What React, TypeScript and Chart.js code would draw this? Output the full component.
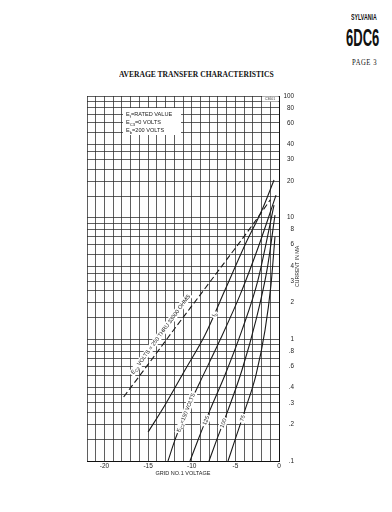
import React, { useEffect, useRef } from 'react';
import { Chart, registerables } from 'chart.js';

Chart.register(...registerables);

// ---- data (grid No.1 voltage in V, current in mA) ----
const dashedX = [-17.8, -14.8, -11.9, -9.05, -6.2, -3.3, -1.0];
const dashedY = [0.336, 0.65, 1.24, 2.31, 4.32, 8.2, 14.0];

const ibX = [-15.0, -13.06, -10.77, -8.48, -6.19, -3.9, -1.95, -0.57];
const ibY = [0.173, 0.289, 0.56, 1.085, 2.54, 5.96, 11.56, 20.4];

const ec150X = [-12.72, -11.92, -10.66, -9.05, -6.76, -4.47, -2.41, -0.34];
const ec150Y = [0.1, 0.149, 0.253, 0.446, 0.987, 2.31, 5.63, 15.3];

const ec125X = [-10.2, -9.28, -7.91, -6.19, -4.24, -2.41, -0.57];
const ec125Y = [0.1, 0.149, 0.262, 0.509, 1.19, 3.07, 12.7];

const ec100X = [-8.02, -7.14, -5.84, -4.24, -2.64, -1.375, -0.46];
const ec100Y = [0.1, 0.149, 0.262, 0.56, 1.44, 3.72, 10.5];

const ec75X = [-5.84, -5.04, -3.9, -2.64, -1.6, -0.92, -0.46];
const ec75Y = [0.1, 0.149, 0.262, 0.509, 1.19, 2.8, 6.97];

const xGridValues = [-22, -21, -20, -19, -18, -17, -16, -15, -14, -13, -12, -11, -10, -9, -8, -7, -6, -5, -4, -3, -2, -1, 0];
const xLabelValues = [-20, -15, -10, -5, 0];

const yGridMantissas = [1, 1.5, 2, 2.5, 3, 3.5, 4, 5, 6, 7, 8, 9];
const yDecades = [0.1, 1, 10];
const yLabelValues = [0.1, 0.2, 0.3, 0.4, 0.6, 0.8, 1, 2, 3, 4, 6, 8, 10, 20, 30, 40, 60, 80, 100];
const yLabelTexts = ['.1', '.2', '.3', '.4', '.6', '.8', '1', '2', '3', '4', '6', '8', '10', '20', '30', '40', '60', '80', '100'];

const legendLines: [string, string, string][] = [
  ['E', 'f', '=RATED VALUE'],
  ['E', 'C3', '=0 VOLTS'],
  ['E', 'b', '=200 VOLTS'],
];

// label set beside the dashed curve
const dashedLabel = { pre: 'E', sub: 'C2', post: ' VOLTS = 250 THRU 33000 OHMS', x: -13.6, y: 1.1, angle: -54 };
// inline labels that interrupt a solid curve: dataset index + current (mA) where they sit
const inlineLabels = [
  { ds: 1, pre: 'I', sub: 'b', post: '', at: 1.6 },
  { ds: 2, pre: 'E', sub: 'C2', post: '=150 VOLTS', at: 0.25 },
  { ds: 3, pre: '125', sub: '', post: '', at: 0.215 },
  { ds: 4, pre: '100', sub: '', post: '', at: 0.205 },
  { ds: 5, pre: '75', sub: '', post: '', at: 0.225 },
];

const INK = '#1a1a1a';
const SANS = '"Liberation Sans", Arial, sans-serif';
const LSIZE = 5.6;

const zip = (xs: number[], ys: number[]) => xs.map((x, i) => ({ x, y: ys[i] }));

function drawSubText(ctx: CanvasRenderingContext2D, pre: string, sub: string, post: string, size: number, x0: number, y0: number, measureOnly = false) {
  ctx.font = `${size}px ${SANS}`;
  const w1 = ctx.measureText(pre).width;
  ctx.font = `${size * 0.75}px ${SANS}`;
  const w2 = ctx.measureText(sub).width;
  ctx.font = `${size}px ${SANS}`;
  const w3 = ctx.measureText(post).width;
  const total = w1 + w2 + w3;
  if (measureOnly) return total;
  ctx.textBaseline = 'alphabetic';
  ctx.textAlign = 'left';
  ctx.font = `${size}px ${SANS}`;
  ctx.fillText(pre, x0, y0);
  ctx.font = `${size * 0.75}px ${SANS}`;
  ctx.fillText(sub, x0 + w1, y0 + size * 0.3);
  ctx.font = `${size}px ${SANS}`;
  ctx.fillText(post, x0 + w1 + w2, y0);
  return total;
}

function drawRotatedLabel(ctx: CanvasRenderingContext2D, pre: string, sub: string, post: string, px: number, py: number, angleRad: number) {
  const w = drawSubText(ctx, pre, sub, post, LSIZE, 0, 0, true) as number;
  ctx.save();
  ctx.translate(px, py);
  ctx.rotate(angleRad);
  ctx.fillStyle = '#fff';
  ctx.fillRect(-w / 2 - 1.5, -LSIZE * 0.6, w + 3, LSIZE * 1.3);
  ctx.fillStyle = INK;
  drawSubText(ctx, pre, sub, post, LSIZE, -w / 2, LSIZE * 0.35);
  ctx.restore();
}

const annotPlugin = {
  id: 'annot',
  beforeDatasetsDraw(chart: any) {
    const { ctx, chartArea, scales } = chart;
    const xs = scales.x;
    const ys = scales.y;
    ctx.save();
    // legend box
    const bx = chartArea.left + 36;
    const by = chartArea.top + 12;
    ctx.fillStyle = '#fff';
    ctx.fillRect(bx, by, 58, 27);
    ctx.fillStyle = INK;
    legendLines.forEach((l, i) => {
      drawSubText(ctx, l[0], l[1], l[2], 5.6, bx + 3, by + 8 + i * 8.2);
    });
    // small code box in the corner
    ctx.fillStyle = '#fff';
    ctx.fillRect(chartArea.right - 17, chartArea.top + 0.5, 16.5, 5);
    ctx.fillStyle = '#444';
    ctx.font = `3.6px ${SANS}`;
    ctx.textAlign = 'center';
    ctx.textBaseline = 'middle';
    ctx.fillText('C3601', chartArea.right - 9, chartArea.top + 3);

    // dashed-curve label
    drawRotatedLabel(
      ctx,
      dashedLabel.pre,
      dashedLabel.sub,
      dashedLabel.post,
      xs.getPixelForValue(dashedLabel.x),
      ys.getPixelForValue(dashedLabel.y),
      (dashedLabel.angle * Math.PI) / 180,
    );

    // right axis title, reading upward
    ctx.save();
    ctx.translate(chartArea.right + 19, (chartArea.top + chartArea.bottom) / 2 - 12);
    ctx.rotate(-Math.PI / 2);
    ctx.fillStyle = '#222';
    ctx.font = `5.2px ${SANS}`;
    ctx.textAlign = 'center';
    ctx.textBaseline = 'middle';
    ctx.fillText('CURRENT IN MA', 0, 0);
    ctx.restore();
    ctx.restore();
  },
  afterDatasetsDraw(chart: any) {
    const { ctx, scales } = chart;
    const ys = scales.y;
    ctx.save();
    inlineLabels.forEach((lb) => {
      const pts = chart.getDatasetMeta(lb.ds).data as any[];
      const ty = ys.getPixelForValue(lb.at);
      for (let i = 0; i < pts.length - 1; i++) {
        const a = pts[i];
        const b = pts[i + 1];
        if ((a.y - ty) * (b.y - ty) <= 0 && a.y !== b.y) {
          const t = (ty - a.y) / (b.y - a.y);
          const px = a.x + t * (b.x - a.x);
          const ang = Math.atan2(b.y - a.y, b.x - a.x);
          drawRotatedLabel(ctx, lb.pre, lb.sub, lb.post, px, ty, ang);
          break;
        }
      }
    });
    ctx.restore();
  },
};

const yGridValues = (() => {
  const v: number[] = [];
  yDecades.forEach((d) => yGridMantissas.forEach((m) => v.push(Number((m * d).toFixed(4)))));
  v.push(100);
  return v;
})();

export default function App() {
  const canvasRef = useRef<HTMLCanvasElement>(null);
  const headRefs = useRef<(HTMLDivElement | null)[]>([]);

  const heads = [
    { text: 'SYLVANIA', left: 351, top: 12.9, size: 9.2, width: 25.7, family: '"Liberation Sans Narrow", "Liberation Sans", Arial, sans-serif', weight: 700, spacing: 0 },
    { text: '6DC6', left: 346, top: 26.4, size: 24, width: 33.3, family: '"Liberation Sans Narrow", "Liberation Sans", Arial, sans-serif', weight: 700, spacing: 0 },
    { text: 'PAGE 3', left: 351.7, top: 58.7, size: 7.5, width: 25, family: '"Liberation Serif", "Times New Roman", serif', weight: 400, spacing: 0.6 },
    { text: 'AVERAGE TRANSFER CHARACTERISTICS', left: 119.3, top: 71, size: 7.5, width: 154.7, family: '"Liberation Serif", "Times New Roman", serif', weight: 700, spacing: 0 },
  ];

  useEffect(() => {
    headRefs.current.forEach((el, i) => {
      if (!el) return;
      const w = el.getBoundingClientRect().width;
      if (w > 0) el.style.transform = `scaleX(${heads[i].width / w})`;
    });

    const canvas = canvasRef.current;
    if (!canvas) return;
    const lineDs = (label: string, xs: number[], ys: number[], dashed = false) => ({
      label,
      data: zip(xs, ys),
      borderColor: INK,
      borderWidth: 1.1,
      borderDash: dashed ? [6, 3] : [],
      pointRadius: 0,
      fill: false,
      cubicInterpolationMode: 'monotone' as const,
    });

    const chart = new Chart(canvas, {
      type: 'line',
      data: {
        datasets: [
          lineDs('Ec2 = 250 V thru 33000 ohms', dashedX, dashedY, true),
          lineDs('Ib', ibX, ibY),
          lineDs('Ec2 = 150 V', ec150X, ec150Y),
          lineDs('Ec2 = 125 V', ec125X, ec125Y),
          lineDs('Ec2 = 100 V', ec100X, ec100Y),
          lineDs('Ec2 = 75 V', ec75X, ec75Y),
        ],
      },
      options: {
        animation: false,
        responsive: false,
        devicePixelRatio: 1,
        layout: { padding: { left: 87, top: 96, right: 98, bottom: 31 } },
        plugins: {
          legend: { display: false },
          tooltip: { enabled: false },
          title: { display: false },
        },
        scales: {
          x: {
            type: 'linear',
            position: 'bottom',
            min: -22,
            max: 0,
            afterBuildTicks: (s: any) => {
              s.ticks = xGridValues.map((v) => ({ value: v }));
            },
            afterFit: (s: any) => {
              s.height = 20;
            },
            ticks: {
              autoSkip: false,
              maxRotation: 0,
              padding: 1,
              color: '#222',
              font: { family: SANS, size: 6.5 },
              callback: (v: any) => (xLabelValues.includes(Number(v)) ? String(v) : ''),
            },
            grid: { color: '#2a2a2a', lineWidth: 0.75, drawTicks: false },
            border: { color: '#111', width: 1 },
            title: {
              display: true,
              text: 'GRID NO.1 VOLTAGE',
              color: '#222',
              font: { family: SANS, size: 5.5 },
              padding: { top: 0, bottom: 4 },
            },
          },
          y: {
            type: 'logarithmic',
            position: 'right',
            min: 0.1,
            max: 100,
            afterBuildTicks: (s: any) => {
              s.ticks = yGridValues.map((v) => ({ value: v }));
            },
            afterFit: (s: any) => {
              s.width = 15;
            },
            ticks: {
              autoSkip: false,
              padding: 4,
              crossAlign: 'far',
              color: '#222',
              font: { family: SANS, size: 6.3 },
              callback: (v: any) => {
                const idx = yLabelValues.findIndex((l) => Math.abs(l - Number(v)) < 1e-6);
                return idx >= 0 ? yLabelTexts[idx] : '';
              },
            },
            grid: { color: '#2a2a2a', lineWidth: 0.75, drawTicks: false },
            border: { color: '#111', width: 1 },
          },
        },
      } as any,
      plugins: [annotPlugin],
    });
    return () => chart.destroy();
  }, []);

  return (
    <div style={{ position: 'absolute', left: 0, top: 0, width: 392, height: 512, background: '#fff', overflow: 'hidden' }}>
      {heads.map((h, i) => (
        <div
          key={i}
          ref={(el) => {
            headRefs.current[i] = el;
          }}
          style={{
            position: 'absolute',
            left: h.left,
            top: h.top,
            fontSize: h.size,
            lineHeight: `${h.size}px`,
            fontFamily: h.family,
            fontWeight: h.weight,
            letterSpacing: h.spacing,
            whiteSpace: 'nowrap',
            transformOrigin: 'left top',
            color: '#111',
          }}
        >
          {h.text}
        </div>
      ))}
      <canvas ref={canvasRef} width={392} height={512} style={{ position: 'absolute', left: 0, top: 0 }} />
    </div>
  );
}
